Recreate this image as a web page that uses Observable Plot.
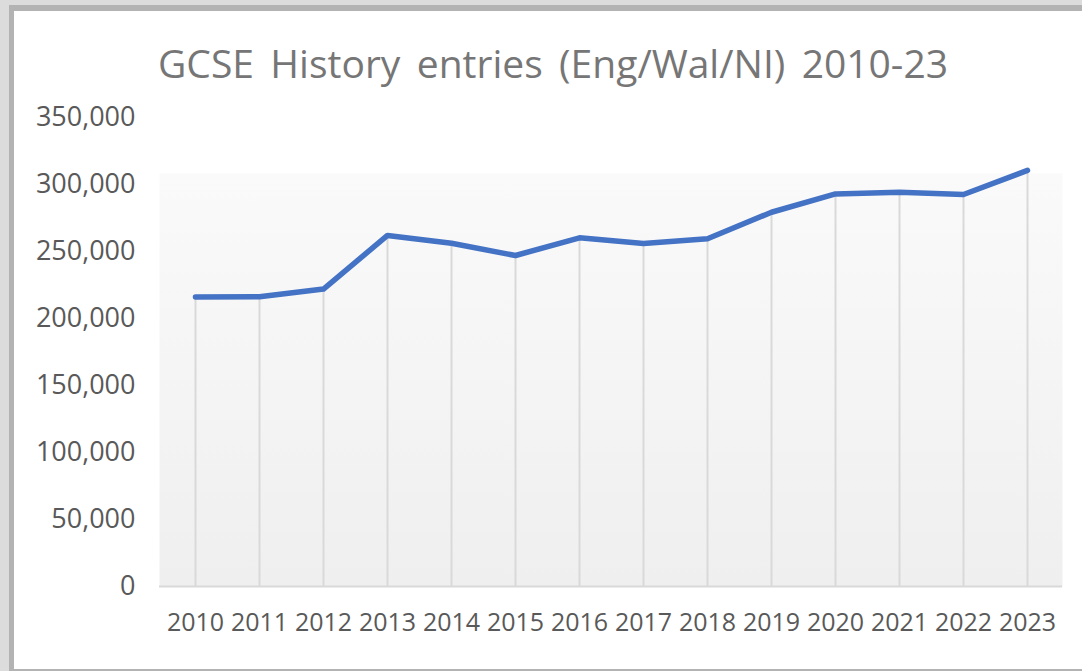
<!DOCTYPE html>
<html>
<head>
<meta charset="utf-8">
<script src="https://cdn.jsdelivr.net/npm/d3@7"></script>
<script src="https://cdn.jsdelivr.net/npm/@observablehq/plot@0.6"></script>
<style>
  html, body { margin: 0; padding: 0; width: 1082px; height: 671px; overflow: hidden; background: #dcdcdc; }
  #card { position: absolute; left: 9px; top: 5px; width: 1068px; height: 658px; background: #fff;
          border-left: 5px solid #b3b3b3; border-top: 6px solid #b3b3b3; border-bottom: 2px solid #b3b3b3; }
  #title { position: absolute; left: 539px; top: 32px; transform: translateX(-50%); white-space: nowrap;
           font-family: "Open Sans", sans-serif; font-size: 39px; line-height: 39px; color: #767676; }
  #chart { position: absolute; left: 0; top: 79px; }
</style>
</head>
<body>
<div id="card">
  <div id="title">GCSE History entries (Eng/Wal/NI) 2010-23</div>
  <div id="chart"></div>
</div>
<script>
const years = ["2010","2011","2012","2013","2014","2015","2016","2017","2018","2019","2020","2021","2022","2023"];
const entries = [216000, 216300, 222000, 262000, 256200, 247000, 260200, 256000, 259500, 279300, 293000, 294300, 292500, 310500];
const yTicks = [0, 50000, 100000, 150000, 200000, 250000, 300000, 350000];

const data = years.map((y, i) => ({year: y, value: entries[i]}));

const chart = Plot.plot({
  width: 1068,
  height: 579,
  marginLeft: 145,
  marginRight: 20,
  marginTop: 27,
  marginBottom: 83,
  style: {fontFamily: "'Open Sans', sans-serif", fontSize: "25px", color: "#595959", background: "transparent"},
  x: {type: "point", domain: years, padding: 0.5, label: null},
  y: {domain: [0, 350000], label: null},
  marks: [
    Plot.frame({fill: "url(#bggrad)", stroke: "none"}),
    Plot.ruleX(data, {x: "year", y1: 0, y2: "value", stroke: "#d9d9d9", strokeWidth: 2}),
    Plot.ruleY([0], {stroke: "#d9d9d9", strokeWidth: 2}),
    Plot.axisX({tickSize: 0, tickPadding: 27, fontSize: 25, label: null}),
    Plot.axisY({ticks: yTicks, tickFormat: d3.format(","), tickSize: 0, tickPadding: 24, fontSize: 27, label: null}),
    Plot.line(data, {x: "year", y: "value", stroke: "#4472c4", strokeWidth: 5.5, strokeLinecap: "round", strokeLinejoin: "round"})
  ]
});

// gradient definition for plot background
const ns = "http://www.w3.org/2000/svg";
const defs = document.createElementNS(ns, "defs");
defs.innerHTML = `<linearGradient id="bggrad" x1="0" y1="0" x2="0" y2="1">
  <stop offset="0" stop-color="#ffffff"/>
  <stop offset="0.118" stop-color="#ffffff"/>
  <stop offset="0.12" stop-color="#fafafa"/>
  <stop offset="1" stop-color="#efefef"/>
</linearGradient>`;
chart.insertBefore(defs, chart.firstChild);
document.getElementById("chart").appendChild(chart);

// stretch title to the reference width using word spacing
const t = document.getElementById("title");
const w = t.getBoundingClientRect().width;
const ws = (790 - w) / 4;
t.style.wordSpacing = ws + "px";
</script>
</body>
</html>
